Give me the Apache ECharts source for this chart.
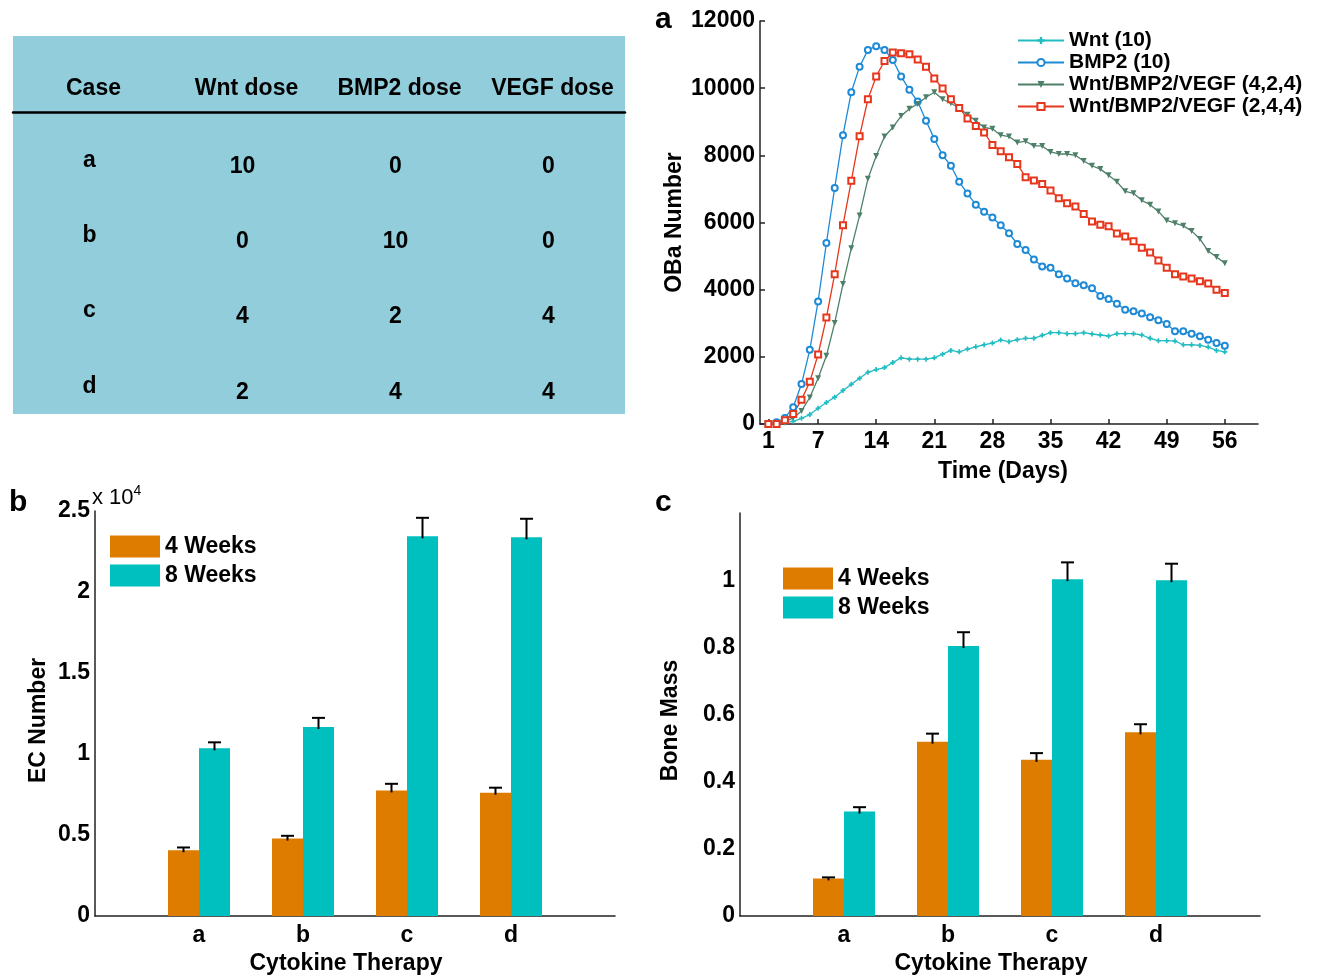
<!DOCTYPE html>
<html>
<head>
<meta charset="utf-8">
<script src="https://cdn.jsdelivr.net/npm/echarts@6/dist/echarts.min.js"></script>
<style>
html,body{margin:0;padding:0;background:#fff;}
#main{width:1322px;height:976px;}
</style>
</head>
<body>
<div id="main"></div>
<script>
// ---------- DATA ----------
const tableCols = ['Case', 'Wnt dose', 'BMP2 dose', 'VEGF dose'];
const caseNames = ['a', 'b', 'c', 'd'];
const wntDose  = [10, 0, 4, 2];
const bmp2Dose = [0, 10, 2, 4];
const vegfDose = [0, 0, 4, 4];

const days = [1,2,3,4,5,6,7,8,9,10,11,12,13,14,15,16,17,18,19,20,21,22,23,24,25,26,27,28,
  29,30,31,32,33,34,35,36,37,38,39,40,41,42,43,44,45,46,47,48,49,50,51,52,53,54,55,56];
const dayTicks = [1, 7, 14, 21, 28, 35, 42, 49, 56];
const wnt10 = [0,0,40,80,170,280,470,640,800,1000,1180,1360,1540,1620,1680,1830,1970,1930,1930,1930,
  1970,2080,2190,2150,2230,2300,2360,2410,2500,2450,2510,2550,2550,2640,2720,2720,2690,2690,2720,2680,
  2650,2620,2690,2690,2690,2650,2550,2480,2480,2470,2360,2360,2340,2290,2190,2150];
const bmp210 = [0,50,180,500,1190,2210,3650,5390,7030,8600,9880,10640,11140,11250,11140,10840,10350,9950,9600,9030,
  8490,8000,7690,7210,6860,6530,6320,6150,5920,5680,5360,5180,4900,4690,4650,4460,4330,4190,4130,4040,
  3810,3720,3580,3400,3360,3290,3180,3090,2980,2760,2760,2690,2610,2510,2410,2330];
const combo424 = [0,0,70,180,390,790,1360,2030,3010,4170,5230,6210,7300,7980,8560,8830,9170,9390,9530,9730,
  9880,9670,9550,9410,9210,9030,8830,8790,8600,8560,8380,8420,8280,8280,8100,8040,8040,8000,7830,7690,
  7590,7410,7210,6930,6870,6660,6530,6330,6060,5980,5900,5750,5510,5150,4970,4790];
const combo244 = [0,0,110,300,720,1260,2070,3170,4460,5920,7240,8570,9670,10350,10810,11060,11040,11010,10850,10640,
  10290,9990,9670,9410,9100,8870,8680,8310,8120,7940,7740,7350,7250,7150,6950,6720,6570,6480,6250,6030,
  5930,5890,5670,5580,5440,5250,5110,4870,4650,4460,4390,4330,4250,4180,4000,3900];

const therapyCats = ['a', 'b', 'c', 'd'];
const ec4w    = [4060, 4780, 7750, 7610];
const ec4wErr = [170, 170, 410, 310];
const ec8w    = [10350, 11670, 23440, 23380];
const ec8wErr = [370, 560, 1140, 1140];
const bone4w    = [0.112, 0.519, 0.465, 0.547];
const bone4wErr = [0.003, 0.024, 0.020, 0.024];
const bone8w    = [0.311, 0.804, 1.003, 1.000];
const bone8wErr = [0.013, 0.041, 0.050, 0.049];

// ---------- STYLE ----------
const FONT = '"Liberation Sans", Arial, Helvetica, sans-serif';
const BLACK = '#000';
const AXIS_COLOR = '#222';
const ORANGE = '#DE7C00';
const TEAL = '#00BFBF';
const BAR_W = 31;

const tableCells = [];
caseNames.forEach((n, r) => {
  [n, wntDose[r], bmp2Dose[r], vegfDose[r]].forEach((v, c) => tableCells.push([c, r, v]));
});

const pair = (xs, ys) => xs.map((x, i) => [x, ys[i]]);
const catPoints = (vals) => vals.map((v, i) => [i + 1, v]);
const errPoints = (vals, errs) => vals.map((v, i) => [i + 1, v, errs[i]]);

function errRender(side) {
  return function (params, api) {
    const x = api.value(0), v = api.value(1), e = api.value(2);
    const base = api.coord([x, v]);
    const top = api.coord([x, v + e]);
    const cx = base[0] + side * BAR_W / 2;
    return {
      type: 'group',
      children: [
        { type: 'line', shape: { x1: cx, y1: base[1] + 2, x2: cx, y2: top[1] }, style: { stroke: BLACK, lineWidth: 2 } },
        { type: 'line', shape: { x1: cx - 6.5, y1: top[1], x2: cx + 6.5, y2: top[1] }, style: { stroke: BLACK, lineWidth: 2 } }
      ]
    };
  };
}

const tickLabel = { color: BLACK, fontFamily: FONT, fontWeight: 'bold', fontSize: 23 };
const axisLineStyle = { lineStyle: { color: AXIS_COLOR, width: 1.5 } };
const panelTitle = { fontFamily: FONT, fontWeight: 'bold', fontSize: 30, color: BLACK };

function barXAxis(gridIndex) {
  return {
    type: 'value', gridIndex, min: 0, max: 5, interval: 1,
    axisLine: { show: true, onZero: false, ...axisLineStyle },
    axisTick: { show: false }, splitLine: { show: false },
    axisLabel: { ...tickLabel, margin: 8, formatter: v => therapyCats[v - 1] || '' },
    name: 'Cytokine Therapy', nameLocation: 'middle', nameGap: 36,
    nameTextStyle: { ...tickLabel, padding: [0, 18, 0, 0] }
  };
}

function nameOnlyYAxis(gridIndex, name, gap) {
  return {
    type: 'value', gridIndex, position: 'left', min: 0, max: 1,
    axisLine: { show: false }, axisTick: { show: false }, axisLabel: { show: false }, splitLine: { show: false },
    name, nameLocation: 'middle', nameGap: gap, nameTextStyle: { ...tickLabel, padding: [0, 14, 0, 0] }
  };
}

const barLegend = (left, top, names) => ({
  left, top, padding: 0, orient: 'vertical', itemWidth: 50, itemHeight: 22, itemGap: 6,
  icon: 'rect',
  textStyle: { fontFamily: FONT, fontWeight: 'bold', fontSize: 23, color: BLACK },
  data: names
});

const option = {
  animation: false,
  backgroundColor: '#fff',
  textStyle: { fontFamily: FONT },
  title: [
    { text: 'a', left: 650, top: 0, textStyle: panelTitle },
    { text: 'b', left: 4, top: 483, textStyle: panelTitle },
    { text: 'c', left: 650, top: 483, textStyle: panelTitle }
  ],
  legend: [
    {
      left: 1017, top: 30, padding: 0, orient: 'vertical', itemWidth: 46, itemHeight: 9, itemGap: 1,
      textStyle: { fontFamily: FONT, fontWeight: 'bold', fontSize: 21, lineHeight: 20, color: BLACK },
      data: ['Wnt (10)', 'BMP2 (10)', 'Wnt/BMP2/VEGF (4,2,4)', 'Wnt/BMP2/VEGF (2,4,4)']
    },
    barLegend(110, 535, ['4 Weeks', '8 Weeks']),
    barLegend(783, 567, ['4 Weeks ', '8 Weeks '])
  ],
  grid: [
    { left: 13, top: 36, width: 612, height: 378, show: true, backgroundColor: '#92CDDC', borderWidth: 0 },
    { left: 760, top: 21, width: 498, height: 403 },
    { left: 95, top: 511, width: 520, height: 405 },
    { left: 740, top: 513, width: 520, height: 403 }
  ],
  xAxis: [
    {
      type: 'category', gridIndex: 0, data: tableCols, position: 'top', offset: -76,
      axisLine: { show: true, onZero: false, lineStyle: { color: BLACK, width: 2.5 } },
      axisTick: { show: false },
      axisLabel: { ...tickLabel, margin: 12, interval: 0, padding: [0, 0, 0, 8] }
    },
    {
      type: 'value', gridIndex: 1, min: 0, max: 60,
      axisLine: { show: true, onZero: false, ...axisLineStyle },
      axisTick: { show: true, inside: true, length: 5, customValues: dayTicks, lineStyle: { color: AXIS_COLOR, width: 1.5 } },
      axisLabel: { ...tickLabel, margin: 6, customValues: dayTicks },
      splitLine: { show: false },
      name: 'Time (Days)', nameLocation: 'middle', nameGap: 36,
      nameTextStyle: { ...tickLabel, padding: [0, 12, 0, 0] }
    },
    barXAxis(2),
    barXAxis(3)
  ],
  yAxis: [
    { type: 'value', gridIndex: 0, inverse: true, min: -1.73, max: 3.29, show: false },
    {
      type: 'value', gridIndex: 1, min: 0, max: 12000, interval: 2000,
      axisLine: { show: true, ...axisLineStyle },
      axisTick: { show: true, inside: true, length: 5, lineStyle: { color: AXIS_COLOR, width: 1.5 } },
      axisLabel: { ...tickLabel, margin: 5, formatter: v => String(v) },
      splitLine: { show: false },
      name: 'OBa Number', nameLocation: 'middle', nameGap: 74,
      nameTextStyle: { ...tickLabel }
    },
    {
      type: 'value', gridIndex: 2, min: 0, max: 25000, interval: 5000,
      axisLine: { show: true, ...axisLineStyle },
      axisTick: { show: false },
      axisLabel: { ...tickLabel, margin: 5, formatter: v => String(v / 10000) },
      splitLine: { show: false },
      name: 'x 10{sup|4}', nameLocation: 'end', nameGap: 27, nameMoveOverlap: false,
      nameTextStyle: {
        color: BLACK, fontFamily: FONT, fontSize: 22, align: 'left', verticalAlign: 'top', lineHeight: 28,
        padding: [0, 0, 0, -3],
        rich: { sup: { fontSize: 14, verticalAlign: 'top', lineHeight: 28, color: BLACK, fontFamily: FONT } }
      }
    },
    {
      type: 'value', gridIndex: 3, min: 0, max: 1.2, interval: 0.2,
      axisLine: { show: true, ...axisLineStyle },
      axisTick: { show: false },
      axisLabel: { ...tickLabel, margin: 5, showMaxLabel: false, formatter: v => String(Math.round(v * 10) / 10) },
      splitLine: { show: false },
      name: 'Bone Mass', nameLocation: 'middle', nameGap: 58,
      nameTextStyle: { ...tickLabel, padding: [0, 12, 0, 0] }
    },
    nameOnlyYAxis(2, 'EC Number', 45)
  ],
  series: [
    {
      type: 'custom', xAxisIndex: 0, yAxisIndex: 0, data: tableCells,
      renderItem: (params, api) => {
        const c = api.value(0), r = api.value(1);
        const p = api.coord([c, r]);
        return {
          type: 'text', x: p[0], y: p[1] + (c === 0 ? -6 : 0),
          style: { text: String(tableCells[params.dataIndex][2]), fill: BLACK, fontFamily: FONT,
                   fontWeight: 'bold', fontSize: 23, align: 'center', verticalAlign: 'middle' }
        };
      }
    },
    {
      name: 'Wnt (10)', type: 'line', xAxisIndex: 1, yAxisIndex: 1, data: pair(days, wnt10),
      color: '#22BDC2', lineStyle: { width: 1.3 },
      symbol: 'path://M2,0h2v2h2v2h-2v2h-2v-2h-2v-2h2z', symbolSize: 5
    },
    {
      name: 'BMP2 (10)', type: 'line', xAxisIndex: 1, yAxisIndex: 1, data: pair(days, bmp210),
      color: '#1E8AD6', lineStyle: { width: 1.3 },
      symbol: 'emptyCircle', symbolSize: 6
    },
    {
      name: 'Wnt/BMP2/VEGF (4,2,4)', type: 'line', xAxisIndex: 1, yAxisIndex: 1, data: pair(days, combo424),
      color: '#4E8069', lineStyle: { width: 1.3 },
      symbol: 'triangle', symbolRotate: 180, symbolSize: 6
    },
    {
      name: 'Wnt/BMP2/VEGF (2,4,4)', type: 'line', xAxisIndex: 1, yAxisIndex: 1, data: pair(days, combo244),
      color: '#E6361C', lineStyle: { width: 1.3 },
      symbol: 'emptyRect', symbolSize: 6
    },
    { name: '4 Weeks', type: 'bar', xAxisIndex: 2, yAxisIndex: 2, data: catPoints(ec4w), color: ORANGE, barWidth: BAR_W, barGap: '0%' },
    { name: '8 Weeks', type: 'bar', xAxisIndex: 2, yAxisIndex: 2, data: catPoints(ec8w), color: TEAL, barWidth: BAR_W, barGap: '0%' },
    { type: 'custom', xAxisIndex: 2, yAxisIndex: 2, data: errPoints(ec4w, ec4wErr), renderItem: errRender(-1), z: 5 },
    { type: 'custom', xAxisIndex: 2, yAxisIndex: 2, data: errPoints(ec8w, ec8wErr), renderItem: errRender(1), z: 5 },
    { name: '4 Weeks ', type: 'bar', xAxisIndex: 3, yAxisIndex: 3, data: catPoints(bone4w), color: ORANGE, barWidth: BAR_W, barGap: '0%' },
    { name: '8 Weeks ', type: 'bar', xAxisIndex: 3, yAxisIndex: 3, data: catPoints(bone8w), color: TEAL, barWidth: BAR_W, barGap: '0%' },
    { type: 'custom', xAxisIndex: 3, yAxisIndex: 3, data: errPoints(bone4w, bone4wErr), renderItem: errRender(-1), z: 5 },
    { type: 'custom', xAxisIndex: 3, yAxisIndex: 3, data: errPoints(bone8w, bone8wErr), renderItem: errRender(1), z: 5 }
  ]
};

const chart = echarts.init(document.getElementById('main'), null, { renderer: 'canvas' });
chart.setOption(option);
</script>
</body>
</html>
